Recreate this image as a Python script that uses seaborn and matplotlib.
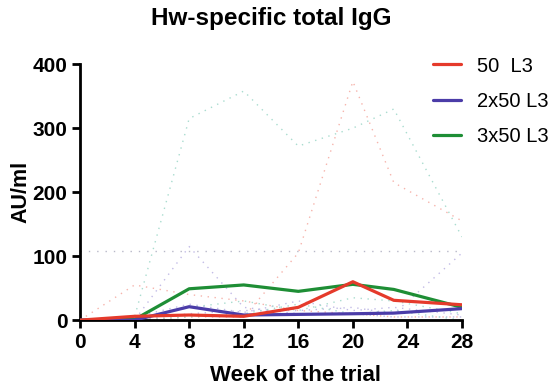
import matplotlib
matplotlib.use("Agg")
import matplotlib.pyplot as plt
import seaborn as sns
import pandas as pd

# Sampling weeks
weeks = [0, 4, 8, 12, 16, 20, 23, 28]

# Group means (AU/ml)
mean_50 = [0, 6, 8, 6, 20, 60, 31, 24]
mean_2x50 = [0, 0, 21, 8, 9, 10, 11, 18]
mean_3x50 = [0, 1, 49, 55, 45, 56, 48, 20]

# Individual animals (AU/ml)
ind_50_a = [0, 0, 5, 5, 105, 373, 215, 155]
ind_50_b = [0, 55, 40, 30, 15, 10, 5, 5]
ind_50_c = [0, 0, 0, 0, 0, 0, 0, 0]
ind_2x50_a = [0, 0, 115, 20, 10, 10, 5, 5]
ind_2x50_b = [0, 0, 10, 15, 15, 20, 10, 105]
ind_2x50_c = [0, 5, 25, 12, 30, 15, 20, 8]
ind_3x50_a = [0, 5, 315, 358, 272, 300, 330, 130]
ind_3x50_b = [0, 0, 20, 30, 15, 35, 30, 10]
ind_3x50_c = [0, 0, 5, 10, 25, 10, 15, 0]

# Assay cut-off
cutoff = [108, 108]
cutoff_weeks = [0, 28]

groups = ["50  L3", "2x50 L3", "3x50 L3"]
colors = {"50  L3": "#E53A2B", "2x50 L3": "#4B3CA8", "3x50 L3": "#1E8E35"}
faint = {"50  L3": "#F6B4AC", "2x50 L3": "#C2BBE6", "3x50 L3": "#A9DCCF"}

means = {"50  L3": mean_50, "2x50 L3": mean_2x50, "3x50 L3": mean_3x50}
individuals = {
    "50  L3": [ind_50_a, ind_50_b, ind_50_c],
    "2x50 L3": [ind_2x50_a, ind_2x50_b, ind_2x50_c],
    "3x50 L3": [ind_3x50_a, ind_3x50_b, ind_3x50_c],
}

rows = []
for g in groups:
    for k, series in enumerate(individuals[g]):
        for w, v in zip(weeks, series):
            rows.append({"week": w, "value": v, "group": g, "animal": f"{g}-{k}"})
ind_df = pd.DataFrame(rows)

mean_df = pd.DataFrame(
    [{"week": w, "value": v, "group": g} for g in groups for w, v in zip(weeks, means[g])]
)

sns.set_style("ticks")
plt.rcParams["font.family"] = ["Liberation Sans", "DejaVu Sans"]
plt.rcParams.update({"text.color": "black", "axes.labelcolor": "black",
                     "xtick.color": "black", "ytick.color": "black"})

fig = plt.figure(figsize=(5.5, 3.89), dpi=100)
ax = fig.add_axes([0.1455, 0.177, 0.6945, 0.658])

# Faint dotted traces of individual animals
sns.lineplot(data=ind_df, x="week", y="value", hue="group", units="animal",
             estimator=None, palette=faint, hue_order=groups, ax=ax,
             linestyle=(0, (1, 4)), linewidth=1.0, legend=False, zorder=1)

ax.plot(cutoff_weeks, cutoff, linestyle=(0, (1, 5)), color="#B8B8C8",
        linewidth=1.0, zorder=1)

# Solid group means
order_z = {"3x50 L3": 3, "2x50 L3": 4, "50  L3": 5}
for g in groups:
    sub = mean_df[mean_df["group"] == g]
    sns.lineplot(data=sub, x="week", y="value", color=colors[g], linewidth=2.3,
                 ax=ax, label=g, zorder=order_z[g])

ax.set_xlim(0, 28)
ax.set_ylim(0, 400)
ax.set_xticks([0, 4, 8, 12, 16, 20, 24, 28])
ax.set_yticks([0, 100, 200, 300, 400])
for lab in ax.get_xticklabels() + ax.get_yticklabels():
    lab.set_fontweight("bold")
    lab.set_fontsize(15)
    lab.set_color("black")

ax.spines["top"].set_visible(False)
ax.spines["right"].set_visible(False)
for s in ("left", "bottom"):
    ax.spines[s].set_linewidth(2.0)
    ax.spines[s].set_color("black")
ax.tick_params(axis="both", width=2.0, length=6, color="black", pad=3)

ax.set_xlabel("Week of the trial", fontsize=16, fontweight="bold", color="black")
ax.xaxis.set_label_coords(0.563, -0.175, transform=ax.transAxes)
ax.set_ylabel("AU/ml", fontsize=15.5, fontweight="bold", color="black")
ax.yaxis.set_label_coords(-0.128, 0.5, transform=ax.transAxes)
ax.set_title("Hw-specific total IgG", fontsize=17.5, fontweight="bold", pad=28,
             color="black")

leg = ax.legend(loc="upper left", bbox_to_anchor=(0.924, 1.03), frameon=False,
                fontsize=14.5, handlelength=1.4, handletextpad=0.8,
                labelspacing=0.8, borderaxespad=0, borderpad=0)
for t in leg.get_texts():
    t.set_color("black")

fig.savefig("out.png", dpi=100)
